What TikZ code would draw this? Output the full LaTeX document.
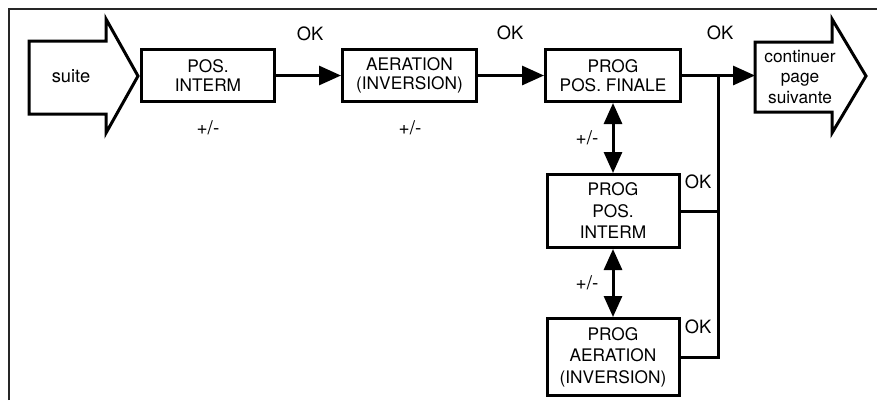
\documentclass[tikz,border=0pt]{standalone}
\usepackage{fontspec}
\setmainfont{TeX Gyre Heros}
\usetikzlibrary{arrows.meta}
\begin{document}
\begin{tikzpicture}[x=1pt,y=-1pt,
  box/.style={draw, line width=3pt, align=center, inner sep=0pt, font=\fontsize{17.3}{19}\selectfont},
  tallbox/.style={box, font=\fontsize{17.3}{21.5}\selectfont},
  lbl/.style={inner sep=0pt, font=\fontsize{18.3}{19}\selectfont},
  pmlbl/.style={inner sep=0pt, font=\fontsize{19}{19}\selectfont},
  conn/.style={line width=3pt, -{Triangle[length=22pt,width=19pt]}},
  dbl/.style={line width=3pt, {Triangle[length=21pt,width=18pt]}-{Triangle[length=21pt,width=18pt]}},
  line/.style={line width=3pt},
  big/.style={draw, line width=3pt, line join=miter, fill=white},
  frame/.style={draw=black!85, line width=2pt}]
\useasboundingbox (0,0) rectangle (877,400);
% frame
\draw[frame] (9,400) -- (9,9) -- (877,9);
% suite arrow
\draw[big] (29,41) -- (106,41) -- (106,19) -- (138,76) -- (106,133) -- (106,114) -- (29,114) -- cycle;
\node[lbl] (suite) at (71,76) {suite};
% continuer arrow
\draw[big] (755,42) -- (832,42) -- (832,19) -- (866,76) -- (832,133) -- (832,112) -- (755,112) -- cycle;
\coordinate (contin) at (755,75.5);
\node[lbl, align=center, font=\fontsize{17.3}{20.5}\selectfont] (cont) at (800,77) {continuer\\page\\suivante};
% boxes
\node[box, minimum width=133pt, minimum height=52pt] (posi) at (208,75.5) {POS.\\INTERM};
\node[box, minimum width=134pt, minimum height=52pt] (aer) at (409.5,75.5) {AERATION\\(INVERSION)};
\node[box, minimum width=135pt, minimum height=52pt] (ppf) at (613,75.5) {PROG\\POS. FINALE};
\node[tallbox, minimum width=132pt, minimum height=73pt] (ppi) at (613,211) {PROG\\POS.\\INTERM};
\node[tallbox, minimum width=132pt, minimum height=77pt] (ppa) at (613,357) {PROG\\AERATION\\(INVERSION)};
% labels
\node[lbl] (ok1) at (310,34) {OK};
\node[lbl] (ok2) at (510,33) {OK};
\node[lbl] (ok3) at (720,33) {OK};
\node[lbl] (ok4) at (698,182) {OK};
\node[lbl] (ok5) at (698,327) {OK};
\node[pmlbl] (pm1) at (208,128) {+/-};
\node[pmlbl] (pm2) at (410,128) {+/-};
\node[pmlbl] (pm3) at (587,138) {+/-};
\node[pmlbl] (pm4) at (587,283) {+/-};
% connectors
\coordinate (j1) at (718,75.5);
\draw[conn] (posi.east) -- (aer.west);
\draw[conn] (aer.east) -- (ppf.west);
\draw[conn] (ppf.east) -- (contin);
\draw[line] (ppa.east) -| (j1);
\draw[line] (ppi.east) -- (ppi.east -| j1);
\draw[dbl] (ppf.south) -- (ppi.north);
\draw[dbl] (ppi.south) -- (ppa.north);
\end{tikzpicture}
\end{document}
